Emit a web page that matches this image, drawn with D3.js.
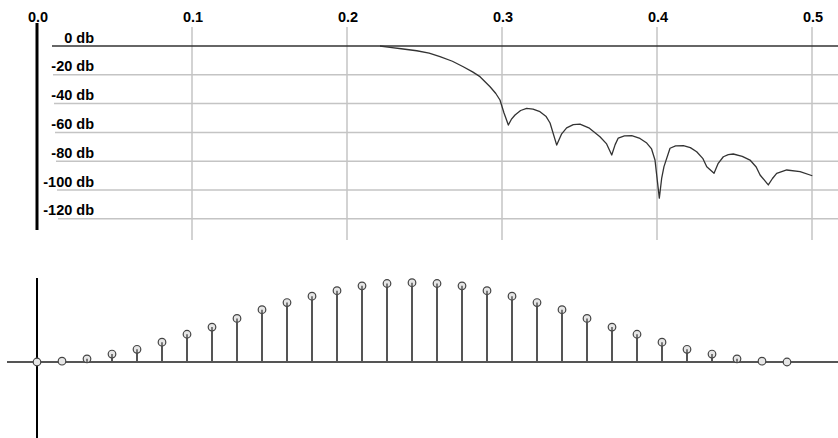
<!DOCTYPE html>
<html>
<head>
<meta charset="utf-8">
<script src="https://cdn.jsdelivr.net/npm/d3@7"></script>
<style>
  html, body { margin: 0; padding: 0; background: #fff; }
  svg { display: block; }
  text { font-family: "Liberation Sans", Arial, Helvetica, sans-serif; font-weight: bold; font-size: 14.5px; fill: #000; }
</style>
</head>
<body>
<svg id="chart" width="838" height="438"></svg>
<script>
// ---- Data ----
const freqTicks = [0.0, 0.1, 0.2, 0.3, 0.4, 0.5];
const freqTickLabels = ["0.0", "0.1", "0.2", "0.3", "0.4", "0.5"];
const dbTicks = [0, -20, -40, -60, -80, -100, -120];
const dbTickLabels = ["0 db", "-20 db", "-40 db", "-60 db", "-80 db", "-100 db", "-120 db"];

// frequency response (normalized frequency, dB)
const respFreq = [0.2213, 0.2277, 0.2350, 0.2450, 0.2530, 0.2600, 0.2680, 0.2750, 0.2810, 0.2858, 0.2923, 0.2960, 0.2987, 0.3013, 0.3041,
  0.3060, 0.3084, 0.3120, 0.3159, 0.3200, 0.3245, 0.3285, 0.3310, 0.3353,
  0.3385, 0.3417, 0.3460, 0.3503, 0.3560, 0.3632, 0.3675, 0.3708,
  0.3730, 0.3750, 0.3790, 0.3837, 0.3890, 0.3934, 0.3965, 0.3987, 0.4015,
  0.4030, 0.4045, 0.4084, 0.4120, 0.4170, 0.4215, 0.4256, 0.4295, 0.4321, 0.4368,
  0.4395, 0.4428, 0.4460, 0.4492, 0.4550, 0.4600, 0.4640, 0.4665, 0.4718,
  0.4745, 0.4772, 0.4837, 0.4923, 0.5002];
const respDb = [0, -0.9, -1.9, -3.3, -5.0, -7.4, -10.6, -14.4, -18.0, -21.3, -28.3, -33.0, -37.5, -46.5, -54.9,
  -51.0, -47.9, -44.8, -43.3, -43.8, -45.6, -49.0, -53.5, -68.8,
  -61.0, -56.9, -54.6, -54.2, -56.8, -63.0, -68.0, -75.7,
  -68.5, -63.9, -62.4, -62.3, -64.2, -67.4, -71.5, -79.2, -105.6,
  -92.0, -83.8, -71.0, -69.4, -69.2, -70.6, -73.4, -78.0, -83.8, -88.4,
  -81.5, -76.9, -75.4, -75.0, -76.6, -79.2, -84.0, -89.6, -96.5,
  -92.0, -88.4, -86.1, -87.3, -90.1];

// window samples (index, normalized amplitude)
const sampleIndex = d3.range(31);
const sampleValues = [0, 0.01, 0.04, 0.10, 0.16, 0.25, 0.35, 0.44, 0.55, 0.66, 0.75, 0.83, 0.90, 0.96, 0.99,
  1.0, 0.99, 0.96, 0.90, 0.83, 0.75, 0.66, 0.55, 0.44, 0.35, 0.25, 0.16, 0.10, 0.04, 0.01, 0];

// ---- Drawing ----
const svg = d3.select("#chart");

// Top panel scales
const x = d3.scaleLinear().domain([0, 0.5]).range([37, 812]);
const y = d3.scaleLinear().domain([0, -120]).range([46, 218.8]);

const topPanel = svg.append("g");

// vertical grid lines
topPanel.selectAll("line.vgrid").data(freqTicks.slice(1)).enter().append("line")
  .attr("class", "vgrid")
  .attr("x1", d => x(d)).attr("x2", d => x(d))
  .attr("y1", 27).attr("y2", 240)
  .attr("stroke", "#c4c4c4").attr("stroke-width", 1.5);

// horizontal grid lines
topPanel.selectAll("line.hgrid").data(dbTicks).enter().append("line")
  .attr("class", "hgrid")
  .attr("x1", (d, i) => 52 + i) .attr("x2", 838)
  .attr("y1", d => y(d)).attr("y2", d => y(d))
  .attr("stroke", d => d === 0 ? "#333" : "#c4c4c4")
  .attr("stroke-width", d => d === 0 ? 1.6 : 1.5);

// x tick labels
topPanel.selectAll("text.xl").data(freqTicks).enter().append("text")
  .attr("class", "xl")
  .attr("x", d => x(d) + 1).attr("y", 21.5)
  .attr("text-anchor", "middle")
  .text((d, i) => freqTickLabels[i]);

// y tick labels
topPanel.selectAll("text.yl").data(dbTicks).enter().append("text")
  .attr("class", "yl")
  .attr("x", 94).attr("y", d => y(d) - 3.5)
  .attr("text-anchor", "end")
  .text((d, i) => dbTickLabels[i]);

// left axis
topPanel.append("line")
  .attr("x1", x(0)).attr("x2", x(0)).attr("y1", 23).attr("y2", 230)
  .attr("stroke", "#000").attr("stroke-width", 3);

// response curve
const respData = respFreq.map((f, i) => [f, respDb[i]]);
topPanel.append("path")
  .datum(respData)
  .attr("fill", "none")
  .attr("stroke", "#333")
  .attr("stroke-width", 1.3)
  .attr("stroke-linejoin", "round")
  .attr("d", d3.line().x(d => x(d[0])).y(d => y(d[1])));

// Bottom panel scales
const xs = d3.scaleLinear().domain([0, 31]).range([37, 812]);
const ys = d3.scaleLinear().domain([0, 1]).range([362, 282.7]);

const botPanel = svg.append("g");

botPanel.append("line")
  .attr("x1", 7).attr("x2", 838).attr("y1", ys(0)).attr("y2", ys(0))
  .attr("stroke", "#555").attr("stroke-width", 1.8);

botPanel.append("line")
  .attr("x1", xs(0)).attr("x2", xs(0)).attr("y1", 278).attr("y2", 438)
  .attr("stroke", "#000").attr("stroke-width", 2);

botPanel.selectAll("line.stem").data(sampleIndex).enter().append("line")
  .attr("class", "stem")
  .attr("x1", d => xs(d)).attr("x2", d => xs(d))
  .attr("y1", ys(0)).attr("y2", d => ys(sampleValues[d]))
  .attr("stroke", "#555").attr("stroke-width", 2);

botPanel.selectAll("circle.pt").data(sampleIndex).enter().append("circle")
  .attr("class", "pt")
  .attr("cx", d => xs(d)).attr("cy", d => ys(sampleValues[d]))
  .attr("r", 3.8)
  .attr("fill", "#e6e6e6")
  .attr("stroke", "#444").attr("stroke-width", 1.2);

botPanel.selectAll("line.stemtop").data(sampleIndex.filter(d => sampleValues[d] > 0.02)).enter().append("line")
  .attr("class", "stemtop")
  .attr("x1", d => xs(d)).attr("x2", d => xs(d))
  .attr("y1", d => ys(sampleValues[d]) + 3.8).attr("y2", d => ys(sampleValues[d]))
  .attr("stroke", "#555").attr("stroke-width", 1.5);
</script>
</body>
</html>
